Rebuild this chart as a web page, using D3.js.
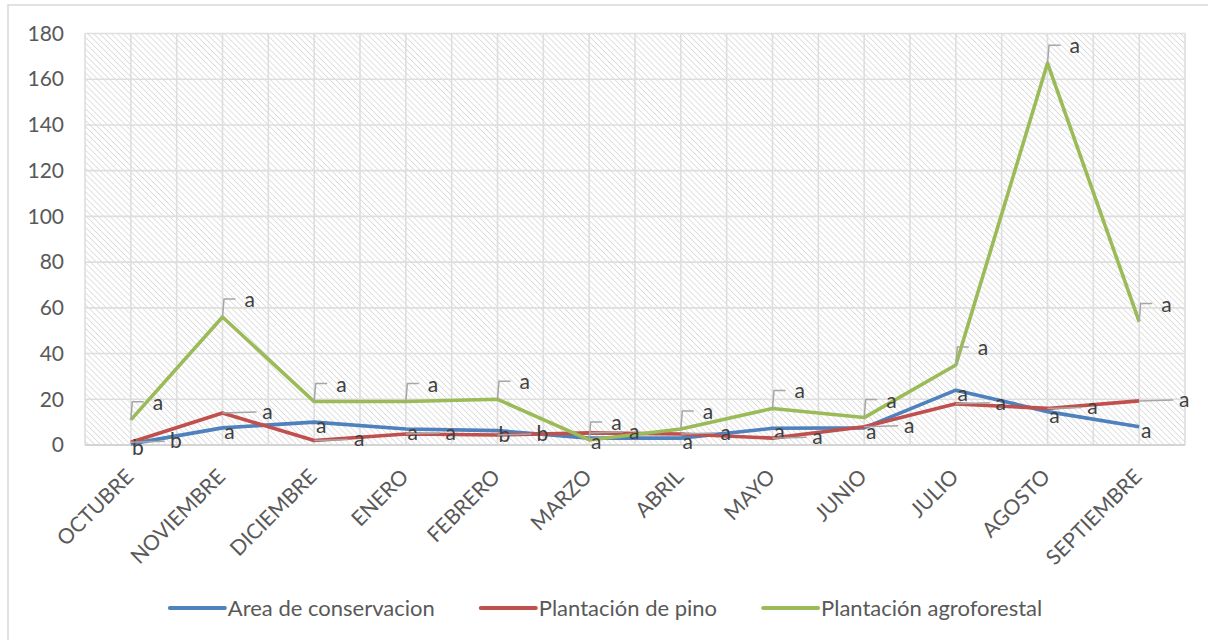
<!DOCTYPE html>
<html lang="es">
  <head>
    <meta charset="UTF-8" />
    <title>Area de conservacion / Plantaciones</title>
    <script src="https://d3js.org/d3.v7.min.js"></script>
    <style>
      body {
        margin: 0;
        background: white;
        font-family: Lato, 'Open Sans', sans-serif;
      }
      svg {
        display: block;
      }
    </style>
  </head>
  <body>
    <svg width="1208" height="640"></svg>

    <script>
      const months = [
        'OCTUBRE', 'NOVIEMBRE', 'DICIEMBRE', 'ENERO', 'FEBRERO', 'MARZO',
        'ABRIL', 'MAYO', 'JUNIO', 'JULIO', 'AGOSTO', 'SEPTIEMBRE',
      ];
      const conservacion = [0.5, 7.5, 10, 7, 6.3, 3, 3, 7.3, 7.5, 24, 14.6, 8];
      const pino = [1.2, 14, 2, 4.8, 4.4, 5.3, 4.8, 3, 8, 18, 16, 19.3];
      const agroforestal = [11, 56, 19, 19, 20, 2.2, 7, 16, 12, 35, 167, 54];
      const conservacionLetters = ['b', 'a', 'a', 'a', 'b', 'a', 'a', 'a', 'a', 'a', 'a', 'a'];
      const pinoLetters = ['b', 'a', 'a', 'a', 'b', 'a', 'a', 'a', 'a', 'a', 'a', 'a'];
      const agroLetters = ['a', 'a', 'a', 'a', 'a', 'a', 'a', 'a', 'a', 'a', 'a', 'a'];
      const yTicks = [0, 20, 40, 60, 80, 100, 120, 140, 160, 180];

      const series = [
        { name: 'Area de conservacion', values: conservacion, letters: conservacionLetters, color: '#4F81BD', label: 'below' },
        { name: 'Plantación de pino', values: pino, letters: pinoLetters, color: '#C0504D', label: 'right' },
        { name: 'Plantación agroforestal', values: agroforestal, letters: agroLetters, color: '#9BBB59', label: 'elbow' },
      ];

      const plot = { left: 85, right: 1185, top: 33.5, bottom: 445 };
      const svg = d3.select('svg');

      // chart frame (only top / left edges fall inside the picture)
      svg.append('rect')
        .attr('x', 8).attr('y', 5)
        .attr('width', 1300).attr('height', 700)
        .attr('fill', 'white')
        .attr('stroke', '#d9d9d9')
        .attr('stroke-width', 1.5);

      const x = d3.scaleBand().domain(months).range([plot.left, plot.right]);
      const cx = (m) => x(m) + x.bandwidth() / 2;
      const y = d3.scaleLinear().domain([0, 180]).range([plot.bottom, plot.top]);

      // hatched plot background
      const defs = svg.append('defs');
      const pat = defs.append('pattern')
        .attr('id', 'hatch')
        .attr('patternUnits', 'userSpaceOnUse')
        .attr('width', 4.2).attr('height', 4.2)
        .attr('patternTransform', 'rotate(-45)');
      pat.append('rect').attr('width', 4.2).attr('height', 4.2).attr('fill', 'white');
      pat.append('line')
        .attr('x1', 0).attr('y1', 0).attr('x2', 0).attr('y2', 4.2)
        .attr('stroke', '#d4d4d4').attr('stroke-width', 1.4);

      svg.append('rect')
        .attr('x', plot.left).attr('y', plot.top)
        .attr('width', plot.right - plot.left)
        .attr('height', plot.bottom - plot.top)
        .attr('fill', 'url(#hatch)');

      // gridlines
      const vLines = [];
      months.forEach((m) => { vLines.push(x(m)); vLines.push(cx(m)); });
      vLines.push(plot.right);
      svg.append('g')
        .selectAll('line')
        .data(vLines)
        .join('line')
        .attr('x1', (d) => d).attr('x2', (d) => d)
        .attr('y1', plot.top).attr('y2', plot.bottom)
        .attr('stroke', '#dedede').attr('stroke-width', 1.6);

      svg.append('g')
        .selectAll('line')
        .data(yTicks)
        .join('line')
        .attr('x1', plot.left).attr('x2', plot.right)
        .attr('y1', (d) => y(d)).attr('y2', (d) => y(d))
        .attr('stroke', (d) => (d === 0 ? '#d4d4d4' : '#dedede'))
        .attr('stroke-width', (d) => (d === 0 ? 2 : 1.6));

      // y axis labels
      const yAxis = svg.append('g')
        .attr('transform', `translate(${plot.left},0)`)
        .call(d3.axisLeft(y).tickValues(yTicks).tickSize(0).tickPadding(21));
      yAxis.select('.domain').remove();
      yAxis.selectAll('text')
        .attr('font-family', 'Lato, sans-serif')
        .attr('font-size', 21)
        .attr('fill', '#595959');

      // x axis labels, rotated
      svg.append('g')
        .selectAll('text')
        .data(months)
        .join('text')
        .attr('transform', (d) => `translate(${cx(d) + 4},${plot.bottom + 33}) rotate(-45)`)
        .attr('text-anchor', 'end')
        .attr('font-size', 21)
        .attr('fill', '#595959')
        .text((d) => d);

      // lines
      const line = d3.line().x((d, i) => cx(months[i])).y((d) => y(d));
      series.forEach((s) => {
        svg.append('path')
          .datum(s.values)
          .attr('fill', 'none')
          .attr('stroke', s.color)
          .attr('stroke-width', 3.6)
          .attr('stroke-linejoin', 'round')
          .attr('d', line);
      });

      // data labels with leader lines
      const lbl = svg.append('g')
        .attr('font-size', 21)
        .attr('fill', '#404040');
      series.forEach((s) => {
        s.values.forEach((v, i) => {
          const px = cx(months[i]);
          const py = y(v);
          if (s.label === 'elbow') {
            lbl.append('path')
              .attr('d', `M${px},${py} L${px + 1.5},${py - 18} L${px + 13},${py - 18}`)
              .attr('fill', 'none')
              .attr('stroke', '#a6a6a6')
              .attr('stroke-width', 1.5);
            lbl.append('text')
              .attr('x', px + 22).attr('y', py - 10)
              .text(s.letters[i]);
          } else if (s.label === 'right') {
            lbl.append('line')
              .attr('x1', px).attr('y1', py)
              .attr('x2', px + 34).attr('y2', py - 1)
              .attr('stroke', '#a6a6a6')
              .attr('stroke-width', 1.5);
            lbl.append('text')
              .attr('x', px + 45).attr('y', py + 6)
              .attr('text-anchor', 'middle')
              .text(s.letters[i]);
          } else {
            lbl.append('text')
              .attr('x', px + 7).attr('y', py + 11)
              .attr('text-anchor', 'middle')
              .text(s.letters[i]);
          }
        });
      });

      // legend
      const legend = svg.append('g').attr('font-size', 22).attr('fill', '#595959');
      const items = series.map((s) => {
        const g = legend.append('g');
        g.append('line')
          .attr('x1', 0).attr('x2', 55)
          .attr('y1', 0).attr('y2', 0)
          .attr('stroke', s.color)
          .attr('stroke-width', 4)
          .attr('stroke-linecap', 'round');
        const t = g.append('text').attr('x', 58).attr('y', 8).text(s.name);
        return { g, w: 58 + t.node().getComputedTextLength() };
      });
      const gap = 46;
      const total = d3.sum(items, (d) => d.w) + gap * (items.length - 1);
      let pos = 606 - total / 2;
      items.forEach((it) => {
        it.g.attr('transform', `translate(${pos},608)`);
        pos += it.w + gap;
      });
    </script>
  </body>
</html>
